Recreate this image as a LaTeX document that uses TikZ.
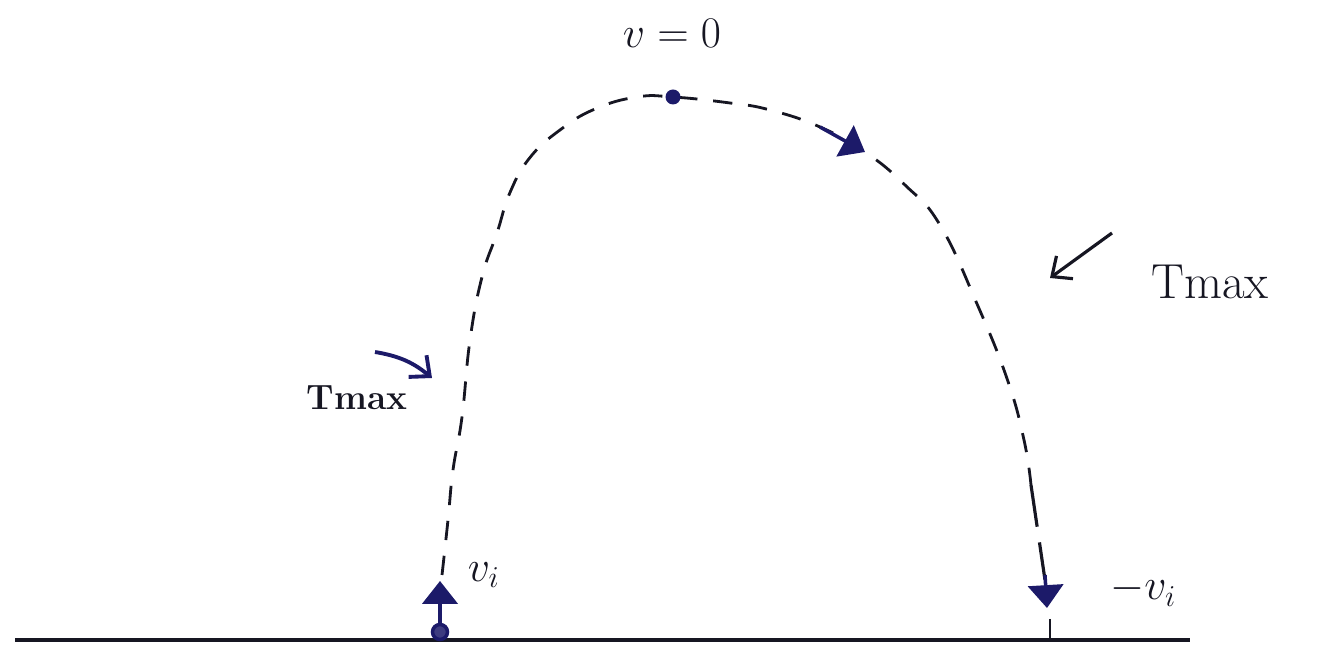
\documentclass[tikz,border=0pt]{standalone}
\usepackage{tikz}
\usetikzlibrary{arrows.meta, positioning}
\definecolor{inkblue}{RGB}{28, 26, 105}
\definecolor{inkblack}{RGB}{22, 22, 34}

\begin{document}
\begin{tikzpicture}[>=Stealth,
    pathdash/.style={inkblack, line width=1.6pt, dash pattern=on 11pt off 9pt},
    kick/.style={inkblue, line width=2pt, -{Triangle[length=13pt, width=20pt]}},
    hint/.style={inkblack, line width=1.8pt, ->, >={Straight Barb[length=9pt, width=16pt]}},
    handlabel/.style={text=inkblack, inner sep=0pt}]

  \useasboundingbox (0,0) rectangle (26.4,13.1);

  % --- ground ---
  \coordinate (gleft) at (0.3,0.3);
  \coordinate (gright) at (23.8,0.3);
  \draw[inkblack, line width=2.6pt] (gleft) -- (gright);

  % --- launch point and initial velocity ---
  \node[circle, draw=inkblue, fill=inkblue!85, line width=2pt, minimum size=0.3cm, inner sep=0pt]
    (launch) at (8.8,0.46) {};
  \coordinate (vitip) at (8.8,1.48);
  \draw[kick] (launch.north) -- (vitip);
  \node[handlabel, font=\fontsize{24}{28}\selectfont, anchor=west] (vi) at (9.35,1.6) {$v_i$};

  % --- flight path (dashed) ---
  \draw[pathdash] plot[smooth, tension=0.75] coordinates {
    (8.84,1.60) (8.96,2.70) (9.06,3.70) (9.24,4.76) (9.40,6.30)
    (9.64,7.56) (9.94,8.44) (10.20,9.25) (10.60,9.95) (11.20,10.50)
    (11.90,10.92) (12.74,11.16) (13.46,11.16) (14.60,11.04) (15.40,10.90)
    (16.40,10.56) (17.30,10.06) (18.10,9.40) (18.80,8.60) (19.55,7.00)
    (20.15,5.50) (20.48,4.30) (20.62,3.40)};
  \draw[inkblack, line width=1.8pt, dash pattern=on 24pt off 9pt] (20.62,3.40) -- (20.90,1.50);

  % --- top of flight ---
  \node[circle, fill=inkblue, minimum size=0.3cm, inner sep=0pt] (top) at (13.46,11.16) {};
  \node[handlabel, font=\fontsize{30}{34}\selectfont] (vzero) at (13.44,12.44) {$v=0$};

  % --- direction on the way down ---
  \coordinate (downa) at (16.40,10.56);
  \coordinate (downb) at (17.30,10.06);
  \draw[kick] (downa) -- (downb);

  % --- landing ---
  \coordinate (landa) at (20.90,1.60);
  \coordinate (landtip) at (20.94,0.94);
  \draw[kick] (landa) -- (landtip);
  \coordinate (tickup) at (21.0,0.72);
  \draw[inkblack, line width=1.4pt] (tickup) -- (21.0,0.30);
  \node[handlabel, font=\fontsize{24}{28}\selectfont, anchor=west] (minusvi) at (22.2,1.3) {$-v_i$};

  % --- time marks ---
  \coordinate (ltail) at (7.50,6.06);
  \coordinate (lhead) at (8.64,5.54);
  \draw[hint, inkblue, line width=2.2pt] (ltail) to[bend left=15] (lhead);
  \node[handlabel, font=\fontsize{20}{24}\selectfont\bfseries] (tleft) at (7.14,5.14) {Tmax};

  \coordinate (rtail) at (22.24,8.44);
  \coordinate (rhead) at (21.00,7.54);
  \draw[hint] (rtail) -- (rhead);
  \node[handlabel, font=\fontsize{28}{32}\selectfont] (tright) at (24.2,7.46) {Tmax};

\end{tikzpicture}
\end{document}
